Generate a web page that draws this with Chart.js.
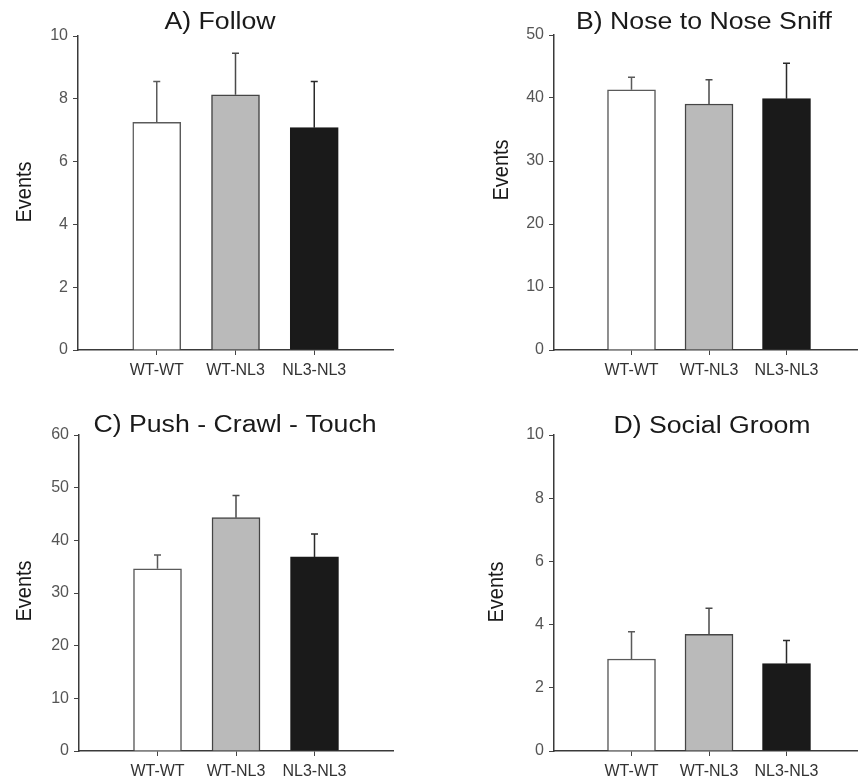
<!DOCTYPE html>
<html>
<head>
<meta charset="utf-8">
<script src="https://cdn.jsdelivr.net/npm/chart.js@4.4.1/dist/chart.umd.min.js"></script>
<style>
  html, body { margin: 0; padding: 0; background: #fff; overflow: hidden; }
  #wrap { position: relative; width: 858px; height: 784px; overflow: hidden; background: #fff; }
  canvas { position: absolute; }
</style>
</head>
<body>
<div id="wrap">
  <canvas id="cA" width="430" height="392" style="left:0px;top:0px;"></canvas>
  <canvas id="cB" width="440" height="392" style="left:430px;top:0px;"></canvas>
  <canvas id="cC" width="430" height="392" style="left:0px;top:392px;"></canvas>
  <canvas id="cD" width="440" height="392" style="left:430px;top:392px;"></canvas>
</div>
<script>
// ---- data ----
const categories = ['WT-WT', 'WT-NL3', 'NL3-NL3'];
const barColors = ['#ffffff', '#bababa', '#1a1a1a'];

const followTitle = 'A) Follow';
const followMeans = [7.25, 8.13, 7.08];
const followSem   = [1.30, 1.32, 1.47];
const followTicks = [0, 2, 4, 6, 8, 10];

const sniffTitle = 'B) Nose to Nose Sniff';
const sniffMeans = [41.3, 39.05, 39.9];
const sniffSem   = [2.0, 3.85, 5.6];
const sniffTicks = [0, 10, 20, 30, 40, 50];

const pushTitle = 'C) Push - Crawl - Touch';
const pushMeans = [34.6, 44.3, 36.85];
const pushSem   = [2.6, 4.2, 4.35];
const pushTicks = [0, 10, 20, 30, 40, 50, 60];

const groomTitle = 'D) Social Groom';
const groomMeans = [2.91, 3.69, 2.77];
const groomSem   = [0.86, 0.83, 0.73];
const groomTicks = [0, 2, 4, 6, 8, 10];

const yTitle = 'Events';

// ---- plugins ----
const FONT = "'Liberation Sans', Arial, sans-serif";
const STRETCH = 1.16;

const errorBarPlugin = {
  id: 'errorBars',
  afterDatasetsDraw(chart) {
    const ctx = chart.ctx;
    const ds = chart.data.datasets[0];
    const meta = chart.getDatasetMeta(0);
    const y = chart.scales.y;
    ctx.save();
    ctx.lineWidth = 1.5;
    meta.data.forEach((el, i) => {
      const m = ds.data[i];
      if (m == null) return;
      const top = y.getPixelForValue(m + ds.sem[i]);
      ctx.strokeStyle = ds.errColor[i];
      ctx.beginPath();
      ctx.moveTo(el.x, el.y);
      ctx.lineTo(el.x, top);
      ctx.moveTo(el.x - 3.5, top);
      ctx.lineTo(el.x + 3.5, top);
      ctx.stroke();
    });
    ctx.restore();
  }
};

const textPlugin = {
  id: 'panelText',
  afterDraw(chart, args, opts) {
    const ctx = chart.ctx;
    ctx.save();
    ctx.fillStyle = '#1a1a1a';
    ctx.font = '23px ' + FONT;
    ctx.textAlign = 'center';
    ctx.textBaseline = 'alphabetic';
    ctx.translate(opts.titleX, opts.titleY);
    ctx.scale(STRETCH, 1);
    ctx.fillText(opts.title, 0, 0);
    ctx.restore();
    ctx.save();
    ctx.fillStyle = '#1a1a1a';
    ctx.font = '20px ' + FONT;
    ctx.textAlign = 'center';
    ctx.textBaseline = 'middle';
    ctx.translate(opts.yLabelX, opts.yLabelY);
    ctx.rotate(-Math.PI / 2);
    ctx.scale(1, 1.1);
    ctx.fillText(opts.yLabel, 0, 0);
    ctx.restore();
  }
};

function makePanel(id, title, means, sem, ticks, geom) {
  const canvas = document.getElementById(id);
  const W = canvas.width, H = canvas.height;
  const labels = [''].concat(categories).concat(['']);
  const data = [null].concat(means).concat([null]);
  const semPad = [0].concat(sem).concat([0]);
  const bg = ['#fff'].concat(barColors).concat(['#fff']);
  const borders = ['#555', '#5a5a5a', '#454545', '#1a1a1a', '#555'];
  const errColors = ['#555', '#5a5a5a', '#4a4a4a', '#2a2a2a', '#555'];
  return new Chart(canvas, {
    type: 'bar',
    data: {
      labels: labels,
      datasets: [{
        data: data,
        sem: semPad,
        errColor: errColors,
        backgroundColor: bg,
        borderColor: borders,
        borderWidth: 1.5,
        borderSkipped: 'bottom',
        barThickness: 48
      }]
    },
    options: {
      responsive: false,
      animation: false,
      devicePixelRatio: 1,
      layout: { padding: { left: 0, top: geom.top, right: W - geom.right, bottom: 0 } },
      plugins: {
        legend: { display: false },
        tooltip: { enabled: false },
        title: { display: false },
        panelText: {
          title: title, titleX: geom.titleX, titleY: geom.titleY,
          yLabel: yTitle, yLabelX: geom.yLabelX, yLabelY: geom.yLabelY
        }
      },
      scales: {
        x: {
          type: 'category',
          offset: false,
          grid: {
            offset: false,
            drawOnChartArea: false,
            drawTicks: true,
            tickLength: 5,
            tickColor: (c) => (c.tick && c.tick.label) ? '#444' : 'rgba(0,0,0,0)',
            lineWidth: 1
          },
          border: { display: true, color: '#3a3a3a', width: 1.5 },
          ticks: {
            autoSkip: false,
            maxRotation: 0,
            padding: 6,
            color: '#333',
            font: { family: FONT, size: 16 }
          },
          afterFit: (s) => { s.height = H - geom.bottom; }
        },
        y: {
          min: ticks[0],
          max: ticks[ticks.length - 1],
          afterBuildTicks: (s) => { s.ticks = ticks.map(v => ({ value: v })); },
          grid: {
            drawOnChartArea: false,
            drawTicks: true,
            tickLength: 5,
            tickColor: '#444',
            lineWidth: 1
          },
          border: { display: true, color: '#3a3a3a', width: 1.5 },
          ticks: {
            padding: 5,
            color: '#555',
            font: { family: FONT, size: 16 }
          },
          afterFit: (s) => { s.width = geom.left; }
        }
      }
    },
    plugins: [errorBarPlugin, textPlugin]
  });
}

makePanel('cA', followTitle, followMeans, followSem, followTicks,
  { left: 78, top: 36, right: 393, bottom: 350, titleX: 220, titleY: 28.5, yLabelX: 25, yLabelY: 192 });
makePanel('cB', sniffTitle, sniffMeans, sniffSem, sniffTicks,
  { left: 124, top: 35, right: 439, bottom: 350, titleX: 274, titleY: 28.5, yLabelX: 72, yLabelY: 170 });
makePanel('cC', pushTitle, pushMeans, pushSem, pushTicks,
  { left: 79, top: 43, right: 393, bottom: 359, titleX: 235, titleY: 39.5, yLabelX: 25, yLabelY: 199 });
makePanel('cD', groomTitle, groomMeans, groomSem, groomTicks,
  { left: 124, top: 43, right: 439, bottom: 359, titleX: 282, titleY: 41, yLabelX: 67, yLabelY: 200 });
</script>
</body>
</html>
